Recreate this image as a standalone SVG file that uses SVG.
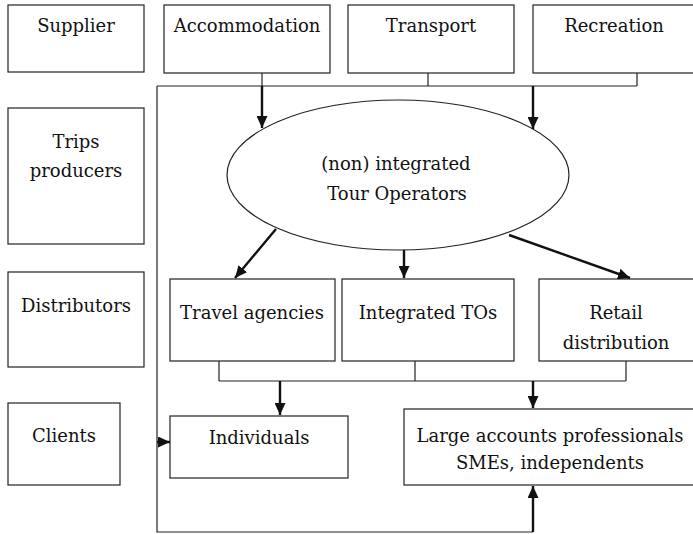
<svg xmlns="http://www.w3.org/2000/svg" width="693" height="534" viewBox="0 0 693 534">
<style>
.box{fill:#fff;stroke:#222;stroke-width:1.2}
.t{font-family:"DejaVu Serif","Liberation Serif",serif;font-size:18px;fill:#111;text-anchor:middle}
.thin{fill:none;stroke:#222;stroke-width:1.2}
.thick{fill:none;stroke:#111;stroke-width:2.4;marker-end:url(#ah)}
</style>
<defs>
<marker id="ah" markerUnits="userSpaceOnUse" markerWidth="12" markerHeight="11" refX="12" refY="5.5" orient="auto">
<path d="M0,0 L12,5.5 L0,11 z" fill="#111"/>
</marker>
</defs>
<rect width="693" height="534" fill="#fff"/>
<g id="supplier"><rect class="box" x="8" y="5" width="136" height="67"/><text class="t" x="76" y="32">Supplier</text></g>
<g id="accommodation"><rect class="box" x="164" y="5" width="166" height="68"/><text class="t" x="247" y="32">Accommodation</text></g>
<g id="transport"><rect class="box" x="348" y="5" width="166" height="68"/><text class="t" x="431" y="32">Transport</text></g>
<g id="recreation"><rect class="box" x="533" y="5" width="162" height="68"/><text class="t" x="614" y="32">Recreation</text></g>
<g id="trips"><rect class="box" x="8" y="108" width="136" height="136"/><text class="t" x="76" y="148">Trips</text><text class="t" x="76" y="177">producers</text></g>
<g id="distributors"><rect class="box" x="8" y="272" width="136" height="95"/><text class="t" x="76" y="312">Distributors</text></g>
<g id="clients"><rect class="box" x="8" y="403" width="112" height="82"/><text class="t" x="64" y="442">Clients</text></g>
<g id="tour-operators"><ellipse cx="398" cy="175" rx="171" ry="75" fill="#fff" stroke="#222" stroke-width="1.2"/><text class="t" x="396" y="170">(non) integrated</text><text class="t" x="397" y="200">Tour Operators</text></g>
<g id="travel-agencies"><rect class="box" x="170" y="279" width="165" height="82"/><text class="t" x="252" y="319">Travel agencies</text></g>
<g id="integrated-tos"><rect class="box" x="342" y="279" width="172" height="82"/><text class="t" x="428" y="319">Integrated TOs</text></g>
<g id="retail"><rect class="box" x="539" y="279" width="156" height="82"/><text class="t" x="616" y="319">Retail</text><text class="t" x="616" y="349">distribution</text></g>
<g id="individuals"><rect class="box" x="170" y="416" width="178" height="62"/><text class="t" x="259" y="444">Individuals</text></g>
<g id="large-accounts"><rect class="box" x="404" y="409" width="291" height="76"/><text class="t" x="550" y="442">Large accounts professionals</text><text class="t" x="550" y="469">SMEs, independents</text></g>
<g id="connectors">
<path class="thin" d="M262,73 V86 M428,73 V86 M637,73 V86 M157,86 H637 M157,86 V532 H533"/>
<path class="thick" d="M262,86 V128"/>
<path class="thick" d="M533,86 V129"/>
<path class="thick" d="M276,229 L235,278"/>
<path class="thick" d="M404,250 V278"/>
<path class="thick" d="M509,235 L630,278"/>
<path class="thin" d="M219,361 V381 M415,361 V381 M626,361 V381 M219,381 H626"/>
<path class="thick" d="M280,381 V415"/>
<path class="thick" d="M533,381 V408"/>
<path class="thick" d="M533,532 V486"/>
<path class="thick" d="M157,442 H170"/>
</g>
</svg>
